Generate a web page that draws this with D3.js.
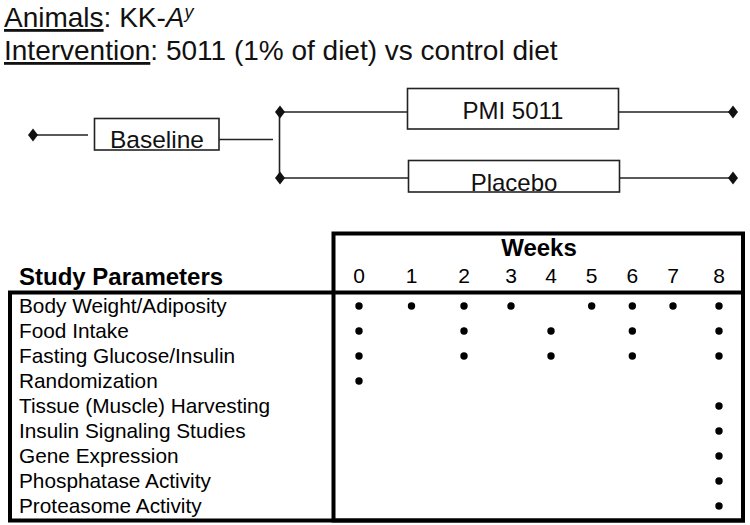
<!DOCTYPE html>
<html><head><meta charset="utf-8">
<script src="https://cdn.jsdelivr.net/npm/d3@7/dist/d3.min.js"></script>
<style>
body{margin:0;background:#fff;}
svg{display:block;font-family:"Liberation Sans",Arial,sans-serif;}
</style></head>
<body>
<script>
// ---- data ----
const weeks = [0, 1, 2, 3, 4, 5, 6, 7, 8];
const parameters = [
  "Body Weight/Adiposity",
  "Food Intake",
  "Fasting Glucose/Insulin",
  "Randomization",
  "Tissue (Muscle) Harvesting",
  "Insulin Signaling Studies",
  "Gene Expression",
  "Phosphatase Activity",
  "Proteasome Activity"
];
const scheduleWeeks = [
  [0, 1, 2, 3, 5, 6, 7, 8],
  [0, 2, 4, 6, 8],
  [0, 2, 4, 6, 8],
  [0],
  [8],
  [8],
  [8],
  [8],
  [8]
];
const arms = ["PMI 5011", "Placebo"];
const baselineLabel = "Baseline";

// ---- drawing ----
const W = 750, H = 525;
const svg = d3.select("body").append("svg").attr("width", W).attr("height", H);
const ink = "#111";

// Header text
const t1 = svg.append("text").attr("x", 4).attr("y", 27).attr("font-size", 28).attr("fill", ink);
t1.append("tspan").attr("text-decoration", "underline").text("Animals");
t1.append("tspan").text(": KK-");
t1.append("tspan").attr("font-style", "italic").text("A");
t1.append("tspan").attr("font-style", "italic").attr("font-size", 18).attr("dy", -9).text("y");

const t2 = svg.append("text").attr("x", 4).attr("y", 60).attr("font-size", 28).attr("fill", ink);
t2.append("tspan").attr("text-decoration", "underline").text("Intervention");
t2.append("tspan").text(": 5011 (1% of diet) vs control diet");

// Flow diagram
const lineC = "#222";
const diamond = "M0,-6.5L5,0L0,6.5L-5,0Z";
const g = svg.append("g").attr("stroke", lineC).attr("stroke-width", 1.6).attr("fill", "none");
function seg(x1, y1, x2, y2) { g.append("line").attr("x1", x1).attr("y1", y1).attr("x2", x2).attr("y2", y2); }
function dia(x, y) { svg.append("path").attr("d", diamond).attr("transform", `translate(${x},${y})`).attr("fill", ink); }

// baseline
dia(33, 135);
seg(36, 135, 88, 135);
g.append("rect").attr("x", 94.5).attr("y", 118.5).attr("width", 124.5).attr("height", 31.5);
svg.append("text").attr("x", 157).attr("y", 148).attr("text-anchor", "middle").attr("font-size", 24.5).attr("fill", ink).text(baselineLabel);
seg(219, 139.5, 273, 139.5);
seg(279.5, 112, 279.5, 178);

const armY = [112, 178];
const armBox = [[407.5, 88.5, 211, 40.5], [408.5, 160.5, 211, 31.5]];
const armTextY = [119, 191];
arms.forEach((a, i) => {
  dia(280, armY[i]);
  seg(283, armY[i], armBox[i][0], armY[i]);
  g.append("rect").attr("x", armBox[i][0]).attr("y", armBox[i][1]).attr("width", armBox[i][2]).attr("height", armBox[i][3]);
  seg(armBox[i][0] + armBox[i][2], armY[i], 730, armY[i]);
  dia(733, armY[i]);
  svg.append("text").attr("x", armBox[i][0] + armBox[i][2] / 2).attr("y", armTextY[i])
    .attr("text-anchor", "middle").attr("font-size", 24).attr("fill", ink).text(a);
});

// Table
const x = d3.scaleLinear().domain([0, 2, 3, 4, 7, 8]).range([359, 464, 511, 551, 673, 719]);
const y = d3.scaleBand().domain(parameters).range([293.5, 518.5]);

const tbl = svg.append("g").attr("stroke", "#000").attr("stroke-width", 4).attr("fill", "none");
tbl.append("rect").attr("x", 10).attr("y", 292.5).attr("width", 733).attr("height", 228);
tbl.append("rect").attr("x", 333.5).attr("y", 233.5).attr("width", 409.5).attr("height", 287);

svg.append("text").attr("x", 19).attr("y", 285).attr("font-size", 24).attr("font-weight", "bold").attr("fill", "#000").text("Study Parameters");
svg.append("text").attr("x", 539).attr("y", 256).attr("text-anchor", "middle").attr("font-size", 24).attr("font-weight", "bold").attr("fill", "#000").text("Weeks");

svg.append("g").selectAll("text").data(weeks).join("text")
  .attr("x", d => x(d)).attr("y", 283).attr("text-anchor", "middle").attr("font-size", 21).attr("fill", "#000").text(d => d);

svg.append("g").selectAll("text").data(parameters).join("text")
  .attr("x", 19).attr("y", d => y(d) + y.bandwidth() / 2 + 7).attr("font-size", 20.8).attr("fill", "#000").text(d => d);

const pts = [];
parameters.forEach((p, i) => scheduleWeeks[i].forEach(w => pts.push({ p, w })));
svg.append("g").selectAll("circle").data(pts).join("circle")
  .attr("cx", d => x(d.w)).attr("cy", d => y(d.p) + y.bandwidth() / 2).attr("r", 3.7).attr("fill", "#000");
</script>
</body></html>
